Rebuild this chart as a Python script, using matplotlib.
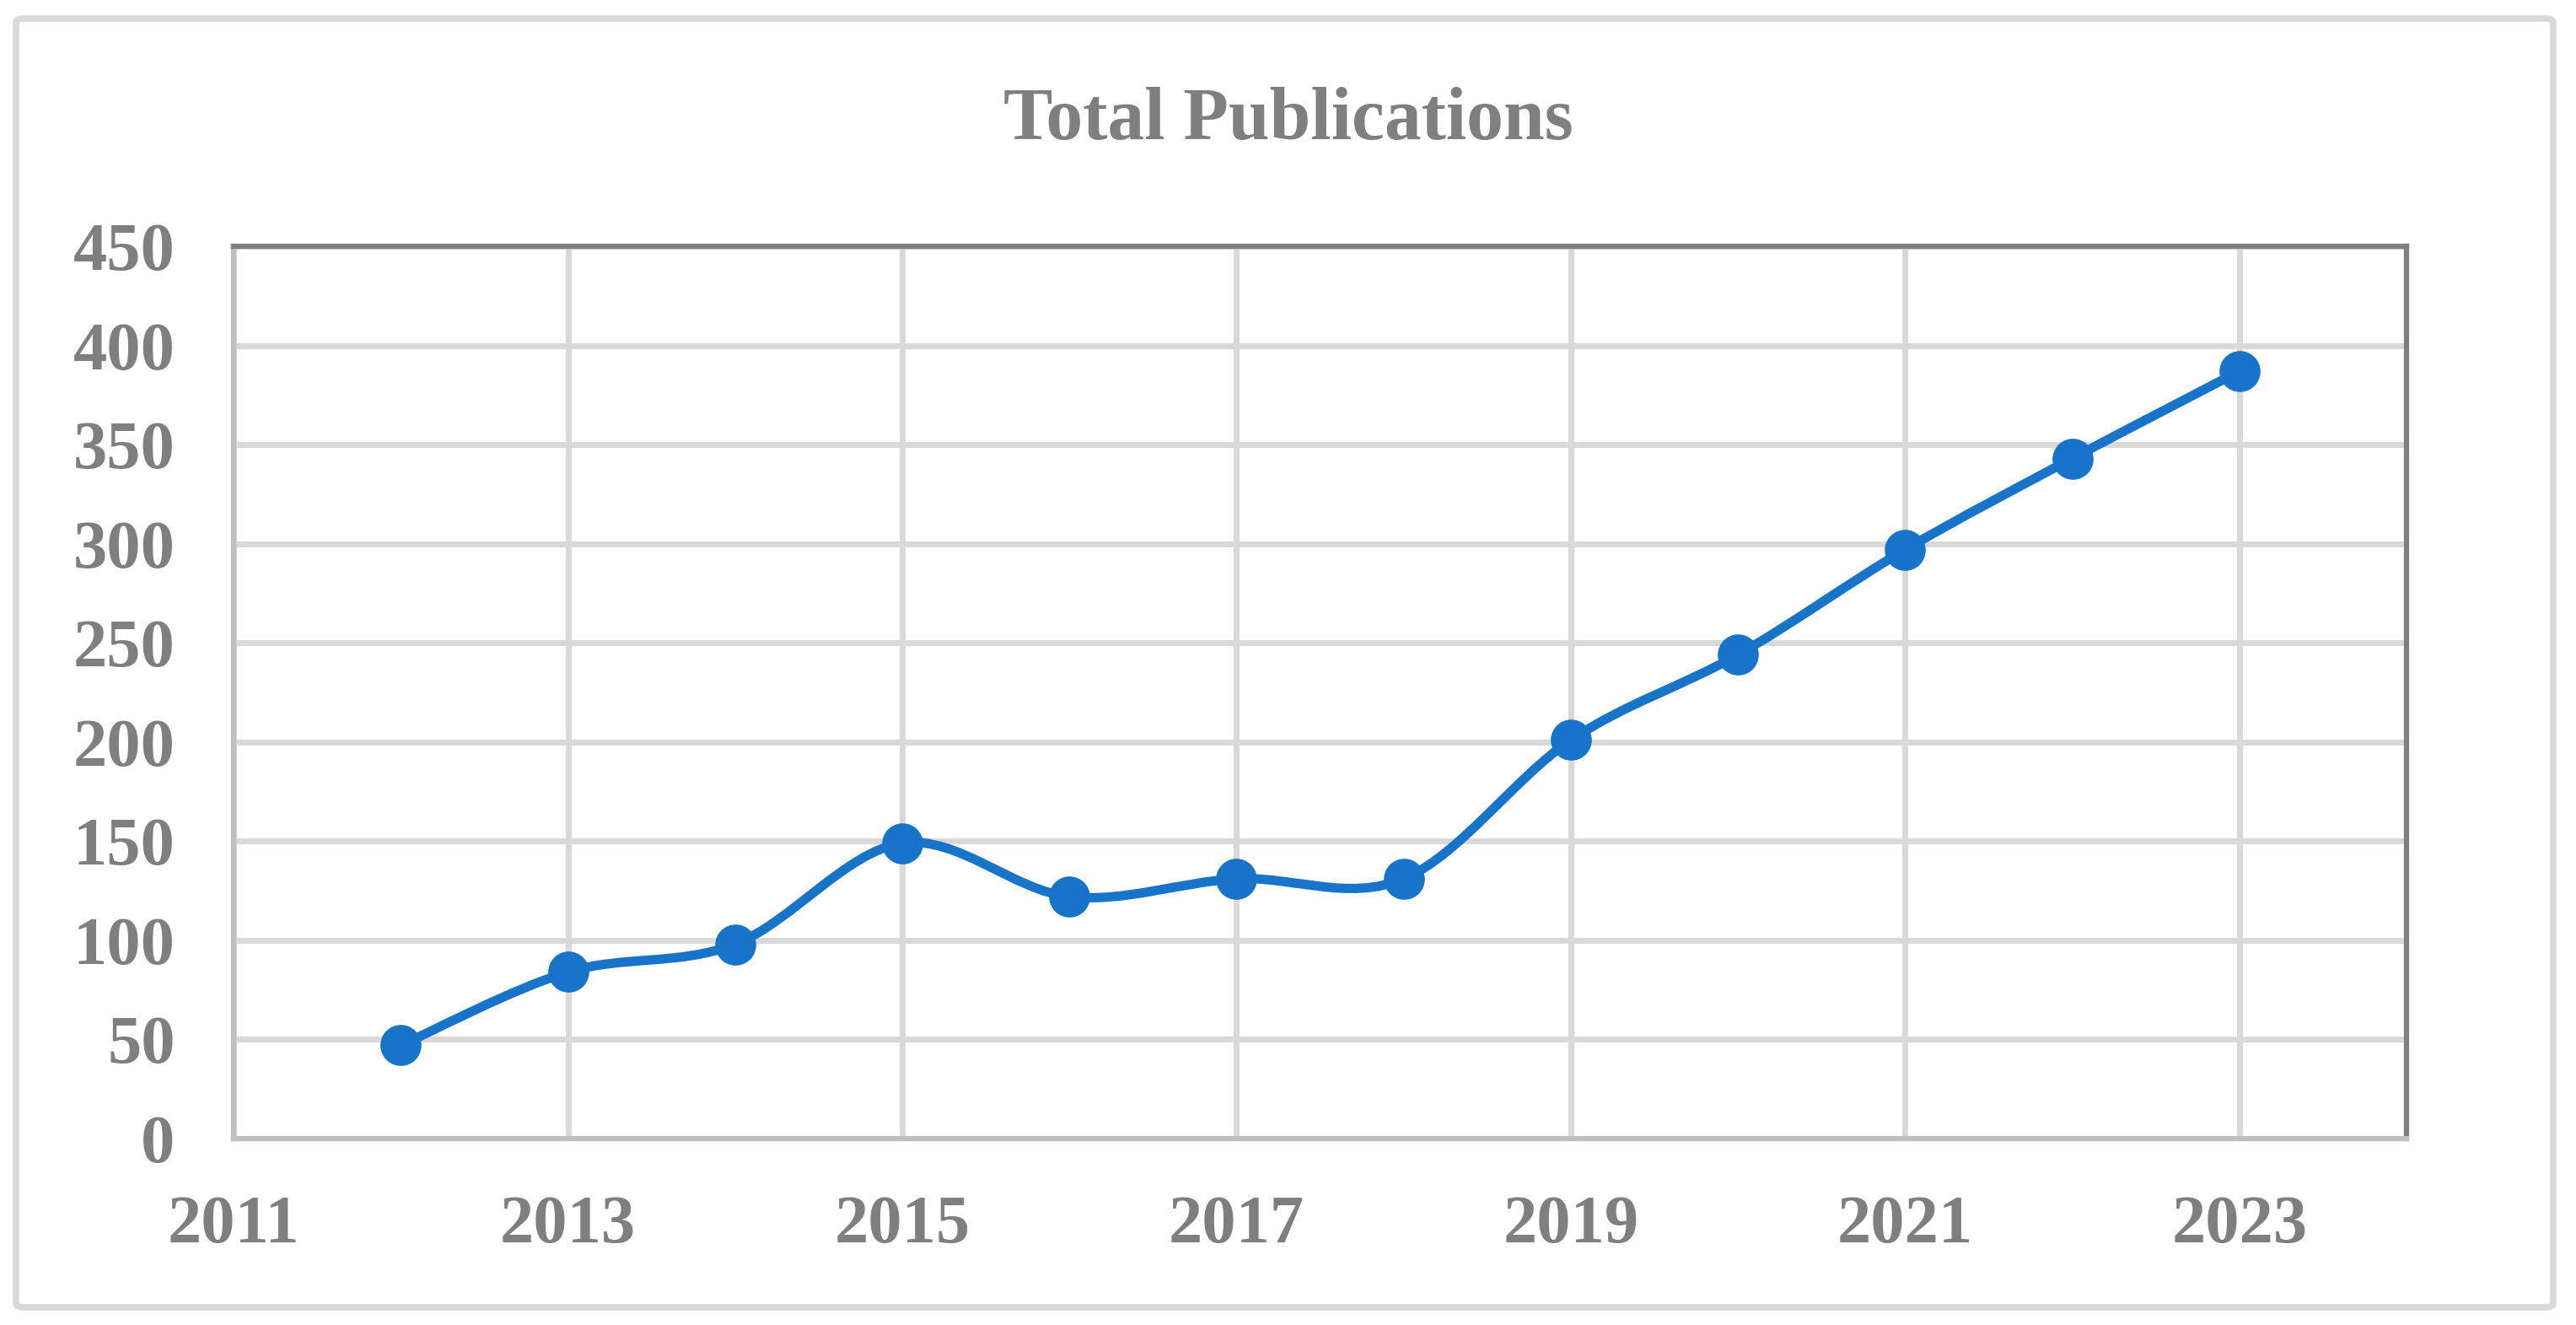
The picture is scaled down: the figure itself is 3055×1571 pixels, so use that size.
import matplotlib
matplotlib.use('Agg')
import matplotlib.pyplot as plt
import numpy as np
from matplotlib.patches import FancyBboxPatch
from matplotlib.path import Path
from matplotlib.patches import PathPatch

# 数据
years = [2012, 2013, 2014, 2015, 2016, 2017, 2018, 2019, 2020, 2021, 2022, 2023]
publications = [47, 84, 98, 149, 122, 131, 131, 201, 244, 297, 343, 387]
x_ticks = [2011, 2013, 2015, 2017, 2019, 2021, 2023]
y_ticks = [0, 50, 100, 150, 200, 250, 300, 350, 400, 450]

text_gray = '#7F7F7F'
line_blue = '#1874C8'
plt.rcParams['font.family'] = ['Liberation Serif', 'DejaVu Serif']
plt.rcParams['font.weight'] = 'bold'

fig = plt.figure(figsize=(30.55, 15.71), dpi=100)
ax = fig.add_axes([0.0907, 0.1407, 0.8435, 0.6734])

# 外框
border = FancyBboxPatch((19 / 3055, 21 / 1571), 3009 / 3055, 1528 / 1571,
                        boxstyle='round,pad=0,rounding_size=0.003',
                        transform=fig.transFigure, fill=False,
                        edgecolor='#D9D9D9', linewidth=5.5, zorder=0)
fig.patches.append(border)

# 平滑曲线 (Catmull-Rom 贝塞尔)
pts = np.column_stack([years, publications]).astype(float)
n = len(pts)
verts = [tuple(pts[0])]
codes = [Path.MOVETO]
for i in range(n - 1):
    p0 = pts[max(i - 1, 0)]
    p1 = pts[i]
    p2 = pts[i + 1]
    p3 = pts[min(i + 2, n - 1)]
    c1 = p1 + (p2 - p0) / 6
    c2 = p2 - (p3 - p1) / 6
    verts += [tuple(c1), tuple(c2), tuple(p2)]
    codes += [Path.CURVE4] * 3
ax.add_patch(PathPatch(Path(verts, codes), fill=False, edgecolor=line_blue,
                       linewidth=8, capstyle='round', joinstyle='round', zorder=3))
ax.plot(years, publications, linestyle='none', marker='o', markersize=34,
        color=line_blue, zorder=4)

ax.set_xlim(2011, 2024)
ax.set_ylim(0, 450)
ax.set_xticks(x_ticks)
ax.set_yticks(y_ticks)
ax.grid(True, which='major', axis='both', color='#D9D9D9', linewidth=5)
ax.set_axisbelow(True)

ax.tick_params(axis='both', which='both', length=0, labelsize=58, labelcolor=text_gray)
ax.tick_params(axis='x', pad=48)
ax.tick_params(axis='y', pad=50)
for lab in ax.get_xticklabels() + ax.get_yticklabels():
    lab.set_fontweight('bold')

for side in ['top', 'right']:
    ax.spines[side].set_color('#808080')
    ax.spines[side].set_linewidth(4.5)
for side in ['left', 'bottom']:
    ax.spines[side].set_color('#BFBFBF')
    ax.spines[side].set_linewidth(4.5)

fig.text(0.5, 1 - 143 / 1571, 'Total Publications', ha='center', va='center',
         fontsize=63, fontweight='bold', color=text_gray)

plt.savefig('out.png', dpi=100)
